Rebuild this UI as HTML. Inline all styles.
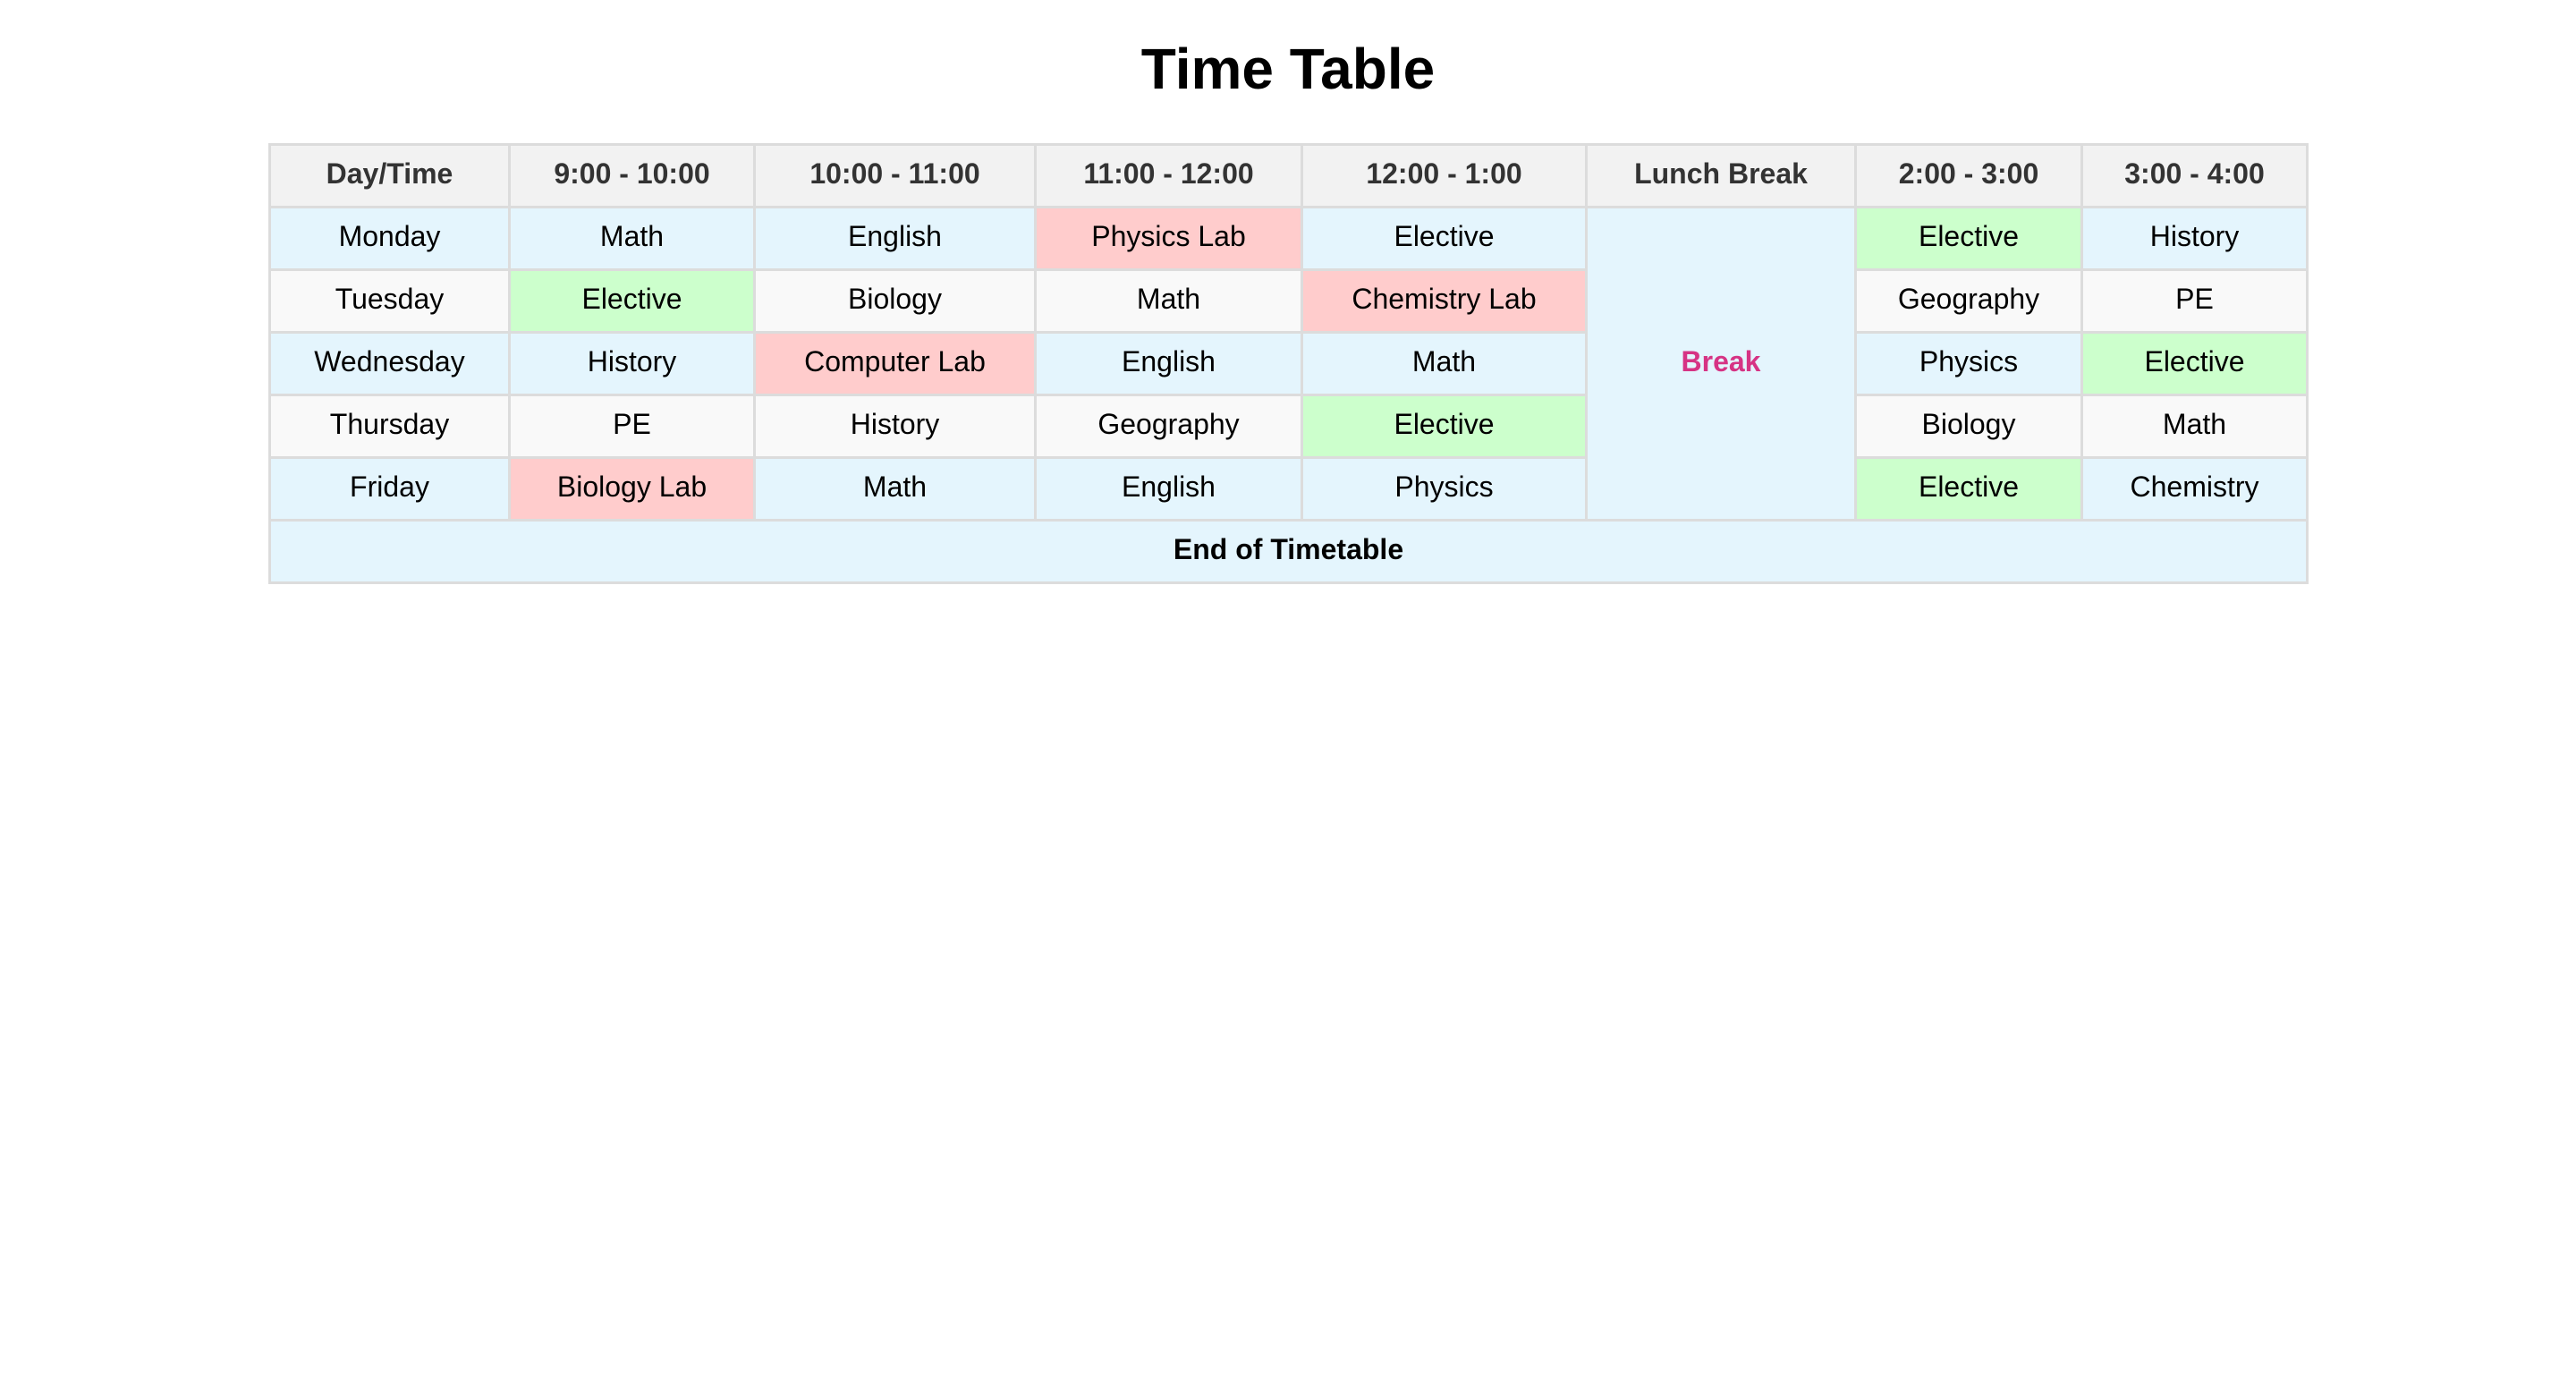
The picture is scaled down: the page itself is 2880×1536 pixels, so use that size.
<!DOCTYPE html>
<html><head><meta charset="utf-8"><style>
html,body{margin:0;padding:0;background:#fff;width:2880px;height:1536px;overflow:hidden;font-family:"Liberation Sans",sans-serif;}
h1{position:absolute;left:0;top:37px;width:2880px;margin:0;text-align:center;font-size:64px;line-height:80px;font-weight:bold;color:#000;}
table{position:absolute;left:300px;top:160px;border-collapse:collapse;table-layout:fixed;width:2278px;}
td,th{border:3px solid #dcdcdc;height:63px;padding:0 0 4px 0;text-align:center;font-size:32px;color:#000;}
th{background:#f2f2f2;color:#333;font-weight:bold;}
tr.b td{background:#e4f5fd;}
tr.g td{background:#f9f9f9;}
td.gr{background:#ccffcc !important;}
td.rd{background:#ffcccc !important;}
td.brk{background:#e4f5fd !important;color:#d63384;font-weight:bold;}
td.end{background:#e4f5fd;font-weight:bold;}
</style></head><body>
<h1>Time Table</h1>
<table>
<colgroup><col style="width:268px"><col style="width:274px"><col style="width:314px"><col style="width:298px"><col style="width:318px"><col style="width:301px"><col style="width:253px"><col style="width:252px"></colgroup>
<tr><th>Day/Time</th><th>9:00 - 10:00</th><th>10:00 - 11:00</th><th>11:00 - 12:00</th><th>12:00 - 1:00</th><th>Lunch Break</th><th>2:00 - 3:00</th><th>3:00 - 4:00</th></tr>
<tr class="b"><td>Monday</td><td>Math</td><td>English</td><td class="rd">Physics Lab</td><td>Elective</td><td rowspan="5" class="brk">Break</td><td class="gr">Elective</td><td>History</td></tr>
<tr class="g"><td>Tuesday</td><td class="gr">Elective</td><td>Biology</td><td>Math</td><td class="rd">Chemistry Lab</td><td>Geography</td><td>PE</td></tr>
<tr class="b"><td>Wednesday</td><td>History</td><td class="rd">Computer Lab</td><td>English</td><td>Math</td><td>Physics</td><td class="gr">Elective</td></tr>
<tr class="g"><td>Thursday</td><td>PE</td><td>History</td><td>Geography</td><td class="gr">Elective</td><td>Biology</td><td>Math</td></tr>
<tr class="b"><td>Friday</td><td class="rd">Biology Lab</td><td>Math</td><td>English</td><td>Physics</td><td class="gr">Elective</td><td>Chemistry</td></tr>
<tr><td colspan="8" class="end">End of Timetable</td></tr>
</table>
</body></html>
